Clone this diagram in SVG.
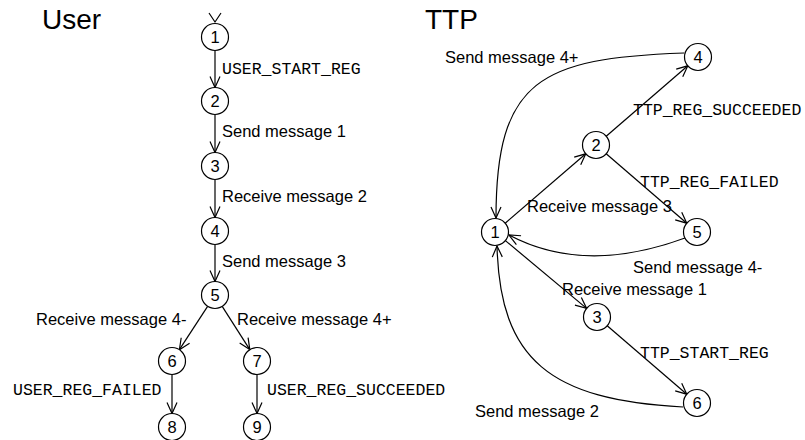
<svg xmlns="http://www.w3.org/2000/svg" width="805" height="440" viewBox="0 0 805 440">
<style>
.n circle{fill:#fff;stroke:#000;stroke-width:1.2}
.n text{font-family:"Liberation Sans",Arial,sans-serif;font-size:16.5px;text-anchor:middle;fill:#000}
.e path{fill:none;stroke:#000;stroke-width:1.2}
.e .a{marker-end:url(#arr)}
.lbl{font-family:"Liberation Sans",Arial,sans-serif;font-size:16.5px;fill:#000}
.mono{font-family:"Liberation Mono","Courier New",monospace;font-size:16.5px;fill:#000}
.title{font-family:"Liberation Sans",Arial,sans-serif;font-size:28px;fill:#000}
</style>
<defs>
<marker id="arr" markerUnits="userSpaceOnUse" markerWidth="13" markerHeight="12" refX="11" refY="5" orient="auto" viewBox="-1 -1 13 12">
<path d="M0,0 L11,5 L0,10" fill="none" stroke="#000" stroke-width="1.2"/>
</marker>
</defs>
<text class="title" x="42" y="29">User</text>
<text class="title" x="425" y="29">TTP</text>
<g class="e" id="connectors">
<path d="M209,13 L215,22 L221,13"/>
<path class="a" d="M215,50.5 L215,87.5"/>
<path class="a" d="M215,114.5 L215,152.5"/>
<path class="a" d="M215,179.5 L215,217.5"/>
<path class="a" d="M215,244.5 L215,281.5"/>
<path class="a" d="M207.6,306.3 L179.4,349.7"/>
<path class="a" d="M222.2,306.4 L249.8,349.6"/>
<path class="a" d="M172,374.5 L172,413.5"/>
<path class="a" d="M257,374.5 L257,413.5"/>
<path class="a" d="M505.2,223.2 L585.8,153.8"/>
<path class="a" d="M606.2,136.2 L687.8,65.8"/>
<path class="a" d="M606.2,153.8 L686.8,223.2"/>
<path class="a" d="M505.4,240.6 L586.6,308.4"/>
<path class="a" d="M607.2,325.8 L686.8,394.2"/>
<path class="a" d="M684,53 C540,58 496,80 496,218"/>
<path class="a" d="M685,238 C620,262 560,262 509,235"/>
<path class="a" d="M683,407 C550,400 500,360 497,246"/>
</g>
<g id="labels">
<text class="mono" x="222" y="74">USER_START_REG</text>
<text class="lbl" x="222" y="137">Send message 1</text>
<text class="lbl" x="222" y="202">Receive message 2</text>
<text class="lbl" x="222" y="267">Send message 3</text>
<text class="lbl" x="36" y="325">Receive message 4-</text>
<text class="lbl" x="237" y="325">Receive message 4+</text>
<text class="mono" x="13" y="395">USER_REG_FAILED</text>
<text class="mono" x="267" y="395">USER_REG_SUCCEEDED</text>
<text class="lbl" x="445" y="63">Send message 4+</text>
<text class="mono" x="633" y="115">TTP_REG_SUCCEEDED</text>
<text class="mono" x="640" y="187">TTP_REG_FAILED</text>
<text class="lbl" x="527" y="212">Receive message 3</text>
<text class="lbl" x="633" y="273">Send message 4-</text>
<text class="lbl" x="562" y="295">Receive message 1</text>
<text class="mono" x="640" y="358">TTP_START_REG</text>
<text class="lbl" x="475" y="417">Send message 2</text>
</g>
<g class="n" id="u1"><circle cx="215" cy="37" r="13.5"/><text x="215" y="43">1</text></g>
<g class="n" id="u2"><circle cx="215" cy="101" r="13.5"/><text x="215" y="107">2</text></g>
<g class="n" id="u3"><circle cx="215" cy="166" r="13.5"/><text x="215" y="172">3</text></g>
<g class="n" id="u4"><circle cx="215" cy="231" r="13.5"/><text x="215" y="237">4</text></g>
<g class="n" id="u5"><circle cx="215" cy="295" r="13.5"/><text x="215" y="301">5</text></g>
<g class="n" id="u6"><circle cx="172" cy="361" r="13.5"/><text x="172" y="367">6</text></g>
<g class="n" id="u7"><circle cx="257" cy="361" r="13.5"/><text x="257" y="367">7</text></g>
<g class="n" id="u8"><circle cx="172" cy="427" r="13.5"/><text x="172" y="433">8</text></g>
<g class="n" id="u9"><circle cx="257" cy="427" r="13.5"/><text x="257" y="433">9</text></g>
<g class="n" id="t1"><circle cx="495" cy="232" r="13.5"/><text x="495" y="238">1</text></g>
<g class="n" id="t2"><circle cx="596" cy="145" r="13.5"/><text x="596" y="151">2</text></g>
<g class="n" id="t3"><circle cx="597" cy="317" r="13.5"/><text x="597" y="323">3</text></g>
<g class="n" id="t4"><circle cx="698" cy="57" r="13.5"/><text x="698" y="63">4</text></g>
<g class="n" id="t5"><circle cx="697" cy="232" r="13.5"/><text x="697" y="238">5</text></g>
<g class="n" id="t6"><circle cx="697" cy="403" r="13.5"/><text x="697" y="409">6</text></g>
</svg>
